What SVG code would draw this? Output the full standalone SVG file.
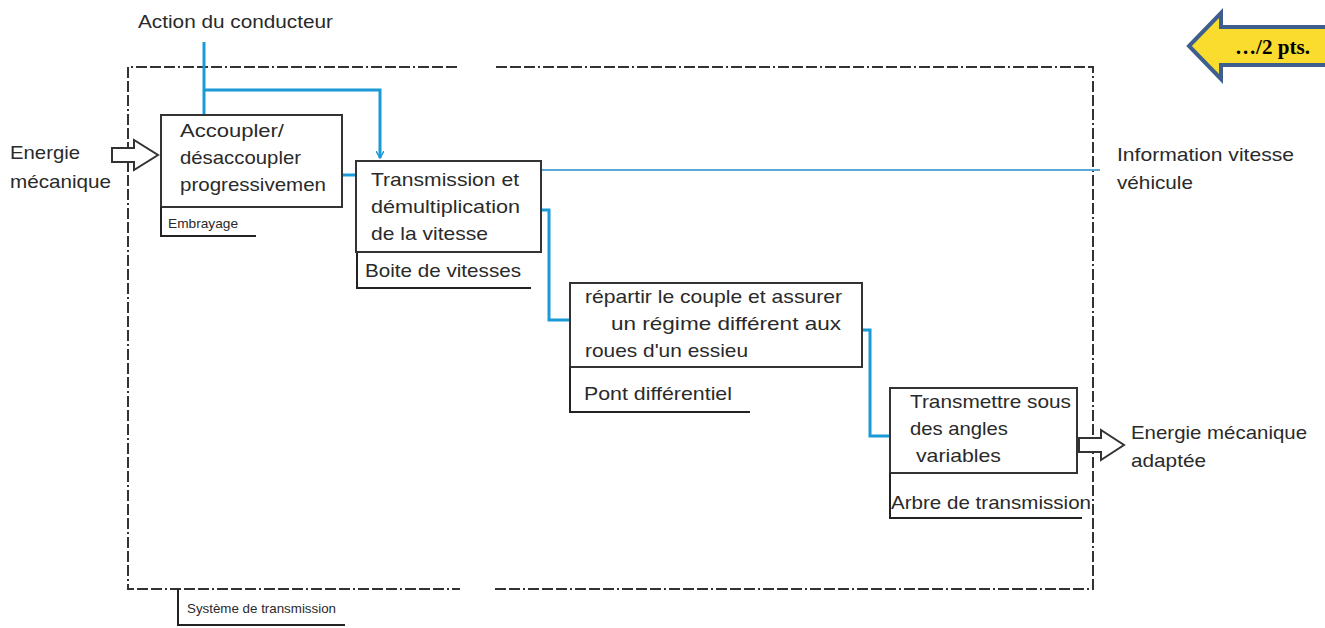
<svg xmlns="http://www.w3.org/2000/svg" width="1325" height="628" viewBox="0 0 1325 628">
<style>
.t{font-family:"Liberation Sans",Arial,sans-serif;font-size:19px;fill:#2a2a2a}
.s{font-family:"Liberation Sans",Arial,sans-serif;font-size:13px;fill:#2a2a2a}
.box{fill:#fff;stroke:#333;stroke-width:2}
.lab{fill:none;stroke:#222;stroke-width:2}
.blue{fill:none;stroke:#1a9ad6;stroke-width:3}
.frame{fill:none;stroke:#333;stroke-width:2;stroke-dasharray:11 3 11 3 11 3 2 3}
.hol{fill:#fff;stroke:#333;stroke-width:2}
</style>
<defs>
<marker id="ah" markerWidth="8" markerHeight="8" refX="7" refY="4" orient="auto" markerUnits="userSpaceOnUse">
<path d="M0,0 L7,4 L0,8" fill="none" stroke="#1a9ad6" stroke-width="1.5"/>
</marker>
</defs>
<rect width="1325" height="628" fill="#fff"/>

<g id="frame">
<path class="frame" d="M457,67 H128 V589 H460"/>
<path class="frame" d="M496,67 H1093 V589 H492"/>
</g>

<g id="connectors">
<path class="blue" d="M204,42 V115"/>
<path class="blue" d="M204,90 H380 V158" stroke-width="2.5" marker-end="url(#ah)"/>
<path class="blue" d="M342,175 H356"/>
<path d="M541,170 H1100" fill="none" stroke="#5aa7d8" stroke-width="2"/>
<path class="blue" d="M541,210 H549 V320 H570"/>
<path class="blue" d="M862,330 H870 V436 H890"/>
<path class="hol" d="M112,148 H134 V140 L158,155 L134,170 V162 H112 Z"/>
<path class="hol" d="M1079,438 H1101 V430 L1124,445 L1101,460 V452 H1079 Z"/>
</g>

<g id="labels-outside">
<text class="t" x="138" y="28" textLength="195" lengthAdjust="spacingAndGlyphs">Action du conducteur</text>
<text class="t" x="10" y="159" textLength="70" lengthAdjust="spacingAndGlyphs">Energie</text>
<text class="t" x="10" y="188" textLength="101" lengthAdjust="spacingAndGlyphs">mécanique</text>
<text class="t" x="1117" y="161" textLength="177" lengthAdjust="spacingAndGlyphs">Information vitesse</text>
<text class="t" x="1117" y="189" textLength="76" lengthAdjust="spacingAndGlyphs">véhicule</text>
<text class="t" x="1131" y="439" textLength="176" lengthAdjust="spacingAndGlyphs">Energie mécanique</text>
<text class="t" x="1131" y="467" textLength="75" lengthAdjust="spacingAndGlyphs">adaptée</text>
</g>

<g id="embrayage">
<rect class="box" x="161" y="115" width="181" height="92"/>
<text class="t" x="180" y="137" textLength="104" lengthAdjust="spacingAndGlyphs">Accoupler/</text>
<text class="t" x="180" y="164" textLength="121" lengthAdjust="spacingAndGlyphs">désaccoupler</text>
<text class="t" x="180" y="191" textLength="146" lengthAdjust="spacingAndGlyphs">progressivemen</text>
<path class="lab" d="M161,207 V236 H256"/>
<text class="s" x="168" y="228" textLength="70" lengthAdjust="spacingAndGlyphs">Embrayage</text>
</g>

<g id="boite">
<rect class="box" x="356" y="161" width="185" height="91" stroke-width="3.5"/>
<text class="t" x="371" y="186" textLength="148" lengthAdjust="spacingAndGlyphs">Transmission et</text>
<text class="t" x="371" y="213" textLength="149" lengthAdjust="spacingAndGlyphs">démultiplication</text>
<text class="t" x="371" y="240" textLength="117" lengthAdjust="spacingAndGlyphs">de la vitesse</text>
<path class="lab" d="M357,253 V288 H531" stroke-width="2.5"/>
<text class="t" x="365" y="277" textLength="156" lengthAdjust="spacingAndGlyphs">Boite de vitesses</text>
</g>

<g id="pont">
<rect class="box" x="570" y="283" width="292" height="84"/>
<text class="t" x="585" y="303" textLength="257" lengthAdjust="spacingAndGlyphs">répartir le couple et assurer</text>
<text class="t" x="611" y="330" textLength="230" lengthAdjust="spacingAndGlyphs">un régime différent aux</text>
<text class="t" x="585" y="357" textLength="163" lengthAdjust="spacingAndGlyphs">roues d'un essieu</text>
<path class="lab" d="M570,367 V412 H750"/>
<text class="t" x="584" y="400" textLength="148" lengthAdjust="spacingAndGlyphs">Pont différentiel</text>
</g>

<g id="arbre">
<rect class="box" x="890" y="388" width="187" height="85"/>
<text class="t" x="910" y="408" textLength="161" lengthAdjust="spacingAndGlyphs">Transmettre sous</text>
<text class="t" x="910" y="435" textLength="98" lengthAdjust="spacingAndGlyphs">des angles</text>
<text class="t" x="916" y="462" textLength="85" lengthAdjust="spacingAndGlyphs">variables</text>
<path class="lab" d="M890,473 V518 H1082"/>
<text class="t" x="891" y="509" textLength="200" lengthAdjust="spacingAndGlyphs">Arbre de transmission</text>
</g>

<g id="systeme">
<path class="lab" d="M178,589 V625 H345"/>
<text class="s" x="187" y="613" textLength="149" lengthAdjust="spacingAndGlyphs">Système de transmission</text>
</g>

<g id="points">
<path d="M1325,27 H1221 V13 L1189,46 L1221,79 V65 H1325" fill="#f9dc2e" stroke="#3e5f8e" stroke-width="4"/>
<text x="1235" y="54" font-family="'Liberation Serif','Times New Roman',serif" font-weight="bold" font-size="20" fill="#000" textLength="75" lengthAdjust="spacingAndGlyphs">…/2 pts.</text>
</g>
</svg>
